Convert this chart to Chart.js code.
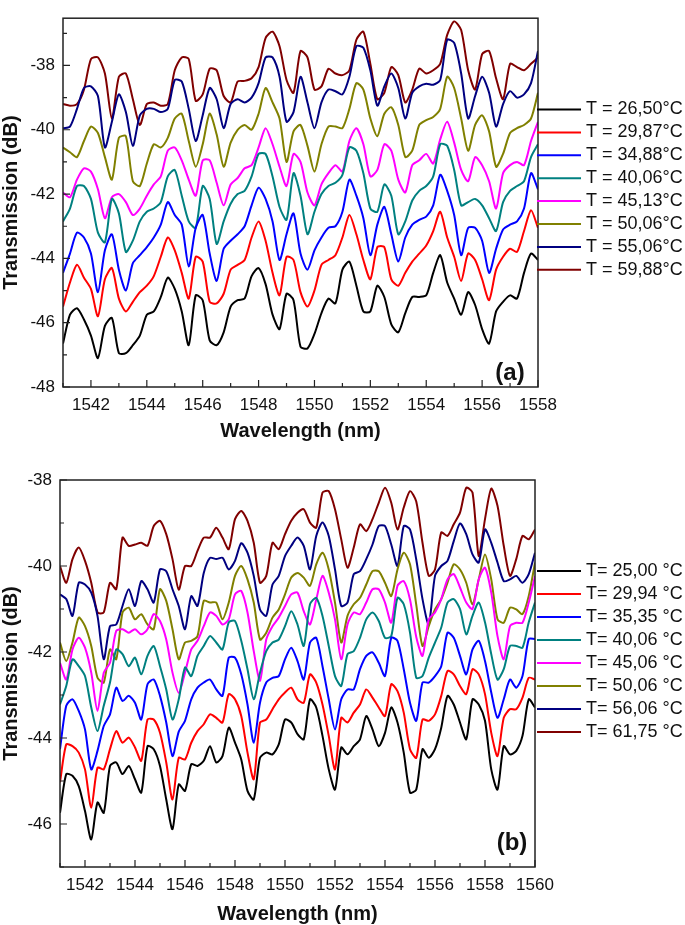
<!DOCTYPE html>
<html>
<head>
<meta charset="utf-8">
<script src="https://cdn.jsdelivr.net/npm/chart.js@4"></script>
<style>
    body { margin: 0; background: #fff; }
    canvas { position: absolute; left: 0; }
    #chartA { top: 0; }
    #chartB { top: 460px; }
</style>
</head>
<body>
<canvas id="chartA" width="685" height="460"></canvas>
<canvas id="chartB" width="685" height="465"></canvas>
<script>
const wavelengthA = [1541, 1541.25, 1541.5, 1541.75, 1542, 1542.25, 1542.5, 1542.75, 1543, 1543.25, 1543.5, 1543.75,
    1544, 1544.25, 1544.5, 1544.75, 1545, 1545.25, 1545.5, 1545.75, 1546, 1546.25, 1546.5, 1546.75,
    1547, 1547.25, 1547.5, 1547.75, 1548, 1548.25, 1548.5, 1548.75, 1549, 1549.25, 1549.5, 1549.75,
    1550, 1550.25, 1550.5, 1550.75, 1551, 1551.25, 1551.5, 1551.75, 1552, 1552.25, 1552.5, 1552.75,
    1553, 1553.25, 1553.5, 1553.75, 1554, 1554.25, 1554.5, 1554.75, 1555, 1555.25, 1555.5, 1555.75,
    1556, 1556.25, 1556.5, 1556.75, 1557, 1557.25, 1557.5, 1557.75, 1558];

const wavelengthB = [1541, 1541.25, 1541.5, 1541.75, 1542, 1542.25, 1542.5, 1542.75, 1543, 1543.25, 1543.5, 1543.75,
    1544, 1544.25, 1544.5, 1544.75, 1545, 1545.25, 1545.5, 1545.75, 1546, 1546.25, 1546.5, 1546.75,
    1547, 1547.25, 1547.5, 1547.75, 1548, 1548.25, 1548.5, 1548.75, 1549, 1549.25, 1549.5, 1549.75,
    1550, 1550.25, 1550.5, 1550.75, 1551, 1551.25, 1551.5, 1551.75, 1552, 1552.25, 1552.5, 1552.75,
    1553, 1553.25, 1553.5, 1553.75, 1554, 1554.25, 1554.5, 1554.75, 1555, 1555.25, 1555.5, 1555.75,
    1556, 1556.25, 1556.5, 1556.75, 1557, 1557.25, 1557.5, 1557.75, 1558, 1558.25, 1558.5, 1558.75,
    1559, 1559.25, 1559.5, 1559.75, 1560];

const colors = ['#000000', '#ff0000', '#0000ff', '#008080', '#ff00ff', '#808000', '#000080', '#800000'];

const labelsA = ['T = 26,50°C', 'T = 29,87°C', 'T = 34,88°C', 'T = 40,06°C',
    'T = 45,13°C', 'T = 50,06°C', 'T = 55,06°C', 'T = 59,88°C'];
const labelsB = ['T= 25,00 °C', 'T= 29,94 °C', 'T= 35,35 °C', 'T= 40,06 °C',
    'T= 45,06 °C', 'T= 50,06 °C', 'T= 56,06 °C', 'T= 61,75 °C'];

// panel (a), transmission in dB
const a2650 = [-46.65, -45.75, -45.55, -45.9, -46.4, -47.1, -46.1, -45.85, -46.95, -46.95, -46.7, -46.4, -45.75, -45.65, -45.2, -44.6, -44.95,
    -45.65, -46.7, -45.15, -45.3, -46.55, -46.7, -46.3, -45.5, -45.3, -45.25, -44.55, -44.3, -44.8, -45.75, -46.2, -45.1, -45.3,
    -46.75, -46.8, -46.35, -45.7, -45.25, -45.4, -44.35, -44.1, -44.85, -45.65, -45.65, -44.85, -45.2, -46.05, -46.3, -45.7, -45.2,
    -45.2, -45.15, -44.45, -43.9, -44.75, -45.25, -45.75, -45.05, -45.45, -46.2, -46.65, -45.65, -45.35, -45.15, -45.25, -44.45, -43.85, -44.05];
const a2987 = [-45.5, -44.75, -44.2, -44.6, -44.95, -45.8, -44.65, -44.3, -45.25, -45.65, -45.35, -45.05, -44.85, -44.55, -43.95, -43.35, -43.75,
    -44.45, -45.25, -43.95, -44.1, -45.35, -45.4, -45.1, -44.35, -44.2, -44.05, -43.35, -42.85, -43.45, -44.45, -45.15, -43.95, -44.05,
    -45.05, -45.5, -45.0, -44.2, -44.05, -43.9, -43.35, -42.65, -43.25, -44.05, -44.65, -43.65, -43.65, -44.65, -44.85, -44.45, -44.1,
    -43.85, -43.6, -43.15, -42.55, -43.35, -43.95, -44.7, -43.85, -44.05, -44.65, -45.3, -44.35, -43.95, -43.7, -43.8, -43.15, -42.5, -43.05];
const a3488 = [-44.45, -43.85, -43.2, -43.35, -43.85, -45.05, -43.75, -43.25, -44.35, -45.0, -44.15, -43.9, -43.65, -43.35, -42.95, -42.25, -42.65,
    -42.95, -44.25, -43.05, -42.65, -43.85, -44.7, -43.7, -43.45, -43.25, -43.0, -42.35, -41.8, -42.15, -42.85, -44.05, -43.25, -42.6,
    -43.85, -44.35, -43.75, -43.35, -43.05, -43.0, -42.55, -41.55, -42.05, -42.75, -43.9, -42.95, -42.4, -43.25, -44.1, -43.35, -42.95,
    -42.8, -42.7, -42.35, -41.4, -41.9, -42.65, -43.9, -43.05, -43.05, -43.45, -44.45, -43.7, -43.1, -42.95, -42.85, -42.45, -41.35, -41.85];
const a4006 = [-42.85, -42.45, -41.75, -41.75, -42.15, -43.2, -43.5, -42.15, -42.6, -43.8, -43.45, -42.85, -42.55, -42.45, -42.25, -41.45, -41.25,
    -42.05, -42.85, -43.05, -41.75, -42.15, -43.55, -42.85, -42.3, -42.0, -41.9, -41.45, -40.75, -40.75, -41.45, -42.4, -42.8, -41.35,
    -42.05, -43.25, -42.55, -42.0, -41.75, -41.65, -41.4, -40.55, -40.65, -41.35, -42.45, -42.55, -41.7, -42.05, -43.25, -42.85, -42.2,
    -41.9, -41.75, -41.45, -40.45, -40.5, -41.25, -42.35, -42.25, -42.15, -42.35, -42.75, -43.15, -42.25, -41.9, -41.75, -41.6, -40.85, -40.45];
const a4513 = [-41.95, -42.1, -41.55, -41.2, -41.3, -41.85, -42.75, -42.1, -42.0, -42.25, -42.65, -42.45, -42.05, -41.7, -41.45, -40.65, -40.55,
    -40.95, -41.55, -42.05, -40.95, -40.95, -41.65, -42.35, -41.7, -41.5, -41.2, -41.1, -40.55, -39.95, -40.45, -41.15, -41.75, -40.75,
    -41.0, -41.95, -42.35, -41.7, -41.35, -41.1, -41.3, -40.35, -39.95, -40.45, -41.45, -41.25, -40.45, -40.65, -41.55, -41.95, -41.1,
    -40.95, -40.75, -41.05, -40.3, -39.75, -40.4, -41.25, -41.6, -40.85, -41.1, -41.6, -42.45, -41.35, -41.1, -41.0, -41.1, -40.35, -39.75];
const a5006 = [-40.55, -40.7, -40.85, -40.35, -39.9, -40.1, -40.85, -41.55, -40.25, -40.2, -41.6, -41.75, -41.05, -40.45, -40.55, -40.25, -39.65,
    -39.5, -40.35, -41.15, -40.45, -39.5, -40.15, -41.15, -40.4, -40.0, -39.85, -40.0, -39.5, -38.7, -39.15, -39.65, -41.0, -40.05,
    -39.85, -40.5, -41.3, -40.45, -39.9, -39.9, -39.95, -39.35, -38.55, -38.75, -39.65, -40.2, -39.5, -39.3, -39.85, -40.85, -40.65,
    -39.85, -39.7, -39.6, -39.35, -38.35, -38.7, -39.65, -40.65, -39.85, -39.55, -40.05, -41.15, -40.75, -40.1, -39.95, -39.85, -39.65, -38.85];
const a5506 = [-39.95, -39.9, -39.35, -38.7, -38.65, -38.95, -40.55, -39.75, -38.9, -39.45, -40.5, -39.55, -39.35, -39.35, -39.45, -39.35, -38.45,
    -38.5, -39.35, -40.35, -39.55, -38.7, -39.05, -39.95, -39.2, -39.05, -39.15, -39.0, -38.55, -37.75, -37.75, -38.35, -39.75, -39.45,
    -38.35, -39.15, -39.95, -39.15, -38.75, -38.8, -38.9, -38.35, -37.4, -37.45, -38.15, -39.25, -38.65, -38.25, -38.7, -39.65, -38.85,
    -38.65, -38.57, -38.6, -38.45, -37.2, -37.3, -38.25, -39.65, -38.95, -38.35, -38.85, -39.9, -39.2, -38.8, -39.0, -38.9, -38.55, -37.55];
const a5988 = [-39.2, -39.25, -39.2, -38.75, -37.8, -37.75, -38.25, -39.65, -38.35, -38.25, -39.05, -39.85, -39.2, -39.15, -39.25, -39.2, -38.15,
    -37.75, -37.8, -39.1, -38.9, -38.1, -38.15, -38.95, -39.15, -38.5, -38.48, -38.4, -38.05, -37.15, -36.95, -37.4, -38.45, -38.85,
    -37.55, -37.75, -38.75, -38.65, -38.1, -38.25, -38.3, -38.15, -37.2, -36.95, -37.95, -39.05, -38.85, -38.05, -38.3, -39.15, -38.75,
    -38.1, -38.25, -38.15, -37.95, -37.05, -36.63, -36.9, -38.15, -38.75, -37.65, -37.55, -38.4, -39.05, -37.95, -38.05, -38.15, -37.95, -37.75];

// panel (b), transmission in dB
const b2500 = [-45.74, -44.84, -44.88, -45.12, -45.7, -46.36, -45.5, -45.74, -44.65, -44.57, -44.84, -44.65, -44.96, -45.27, -44.19, -44.26, -44.65, -45.43, -46.12, -45.08,
    -45.23, -44.61, -44.65, -44.53, -44.19, -44.57, -44.42, -43.76, -44.11, -44.5, -45.23, -45.43, -44.46, -44.34, -44.38, -44.15, -43.57, -43.64, -43.91,
    -44.03, -43.1, -43.29, -43.95, -44.73, -45.2, -44.22, -44.38, -44.19, -44.03, -43.49, -43.8, -44.19, -43.88, -43.29, -43.64, -44.34, -45.27, -45.2,
    -44.26, -44.46, -44.26, -43.76, -43.02, -43.22, -43.64, -44.03, -43.1, -43.22, -43.6, -44.73, -45.2, -44.19, -44.38, -44.3, -43.95, -43.1, -43.29];
const b2994 = [-45.03, -44.15, -44.19, -44.34, -44.73, -45.62, -44.69, -44.73, -44.26, -43.84, -44.11, -43.99, -44.22, -44.53, -43.57, -43.57, -43.88, -44.57, -45.43, -44.46,
    -44.5, -44.11, -43.84, -43.68, -43.45, -43.53, -43.64, -42.98, -43.1, -43.49, -44.34, -44.96, -43.64, -43.57, -43.33, -43.1, -42.94, -42.83, -43.1,
    -43.18, -42.52, -42.71, -43.22, -43.95, -44.73, -43.53, -43.64, -43.41, -43.22, -42.87, -43.06, -43.29, -43.49, -42.75, -42.91, -43.41, -44.26, -44.46,
    -43.57, -43.6, -43.45, -43.02, -42.44, -42.52, -42.79, -42.98, -42.4, -42.52, -42.98, -43.88, -44.42, -43.53, -43.33, -43.33, -43.06, -42.6, -42.64];
const b3535 = [-44.26, -43.25, -43.1, -43.37, -43.8, -44.73, -44.3, -43.72, -43.45, -42.83, -43.14, -43.02, -43.18, -43.57, -42.75, -42.64, -43.02, -43.64, -44.42, -43.85,
    -43.6, -43.1, -42.83, -42.71, -42.64, -42.87, -43.02, -42.13, -42.13, -42.52, -43.22, -44.11, -43.18, -42.71, -42.6, -42.56, -42.17, -41.9, -42.21,
    -42.64, -41.78, -41.67, -42.33, -43.1, -43.8, -43.1, -42.87, -42.87, -42.4, -42.09, -42.01, -42.25, -42.56, -41.67, -41.74, -42.4, -43.18, -43.6,
    -42.71, -42.71, -42.56, -42.33, -41.55, -41.67, -42.09, -42.52, -41.94, -41.74, -42.21, -42.94, -43.53, -43.1, -42.64, -42.83, -42.56, -41.7, -41.7];
const b4006 = [-43.22, -42.79, -42.17, -42.33, -42.56, -43.29, -43.84, -43.25, -42.71, -41.94, -42.05, -42.33, -42.13, -42.52, -42.09, -41.86, -42.33, -42.87, -43.57, -43.1,
    -42.36, -42.56, -42.09, -41.86, -41.63, -41.78, -41.94, -41.31, -41.28, -41.74, -42.4, -43.1, -42.48, -41.98, -41.78, -41.71, -41.4, -41.05, -41.36,
    -41.86, -40.89, -40.74, -41.16, -41.86, -42.56, -42.79, -42.05, -41.98, -41.67, -41.24, -41.08, -41.28, -41.67, -41.63, -40.74, -40.89, -41.55, -42.6,
    -42.56, -42.13, -41.78, -41.43, -40.85, -40.77, -41.0, -41.59, -41.16, -40.85, -41.31, -42.05, -42.64, -42.4, -41.86, -41.86, -41.9, -41.31, -40.85];
const b4506 = [-42.25, -42.64, -41.94, -41.67, -41.9, -42.48, -43.37, -42.48, -42.25, -41.51, -41.47, -41.55, -41.47, -41.59, -41.47, -41.12, -41.28, -41.71, -42.48, -42.95,
    -42.48, -41.94, -41.74, -41.4, -41.08, -41.16, -41.36, -41.24, -40.66, -40.58, -41.08, -41.98, -42.67, -41.71, -41.4, -41.2, -40.93, -40.66, -40.62,
    -41.05, -41.36, -40.78, -40.23, -40.62, -41.24, -42.17, -41.36, -41.08, -41.12, -40.85, -40.54, -40.54, -40.85, -41.32, -40.46, -40.35, -40.78, -41.65,
    -42.09, -41.24, -41.08, -40.77, -40.31, -40.19, -40.5, -40.85, -41.0, -40.31, -40.04, -40.62, -41.63, -42.17, -41.4, -41.32, -41.32, -40.85, -40.23];
const b5006 = [-41.78, -42.21, -41.78, -41.2, -41.4, -41.86, -42.6, -42.71, -41.94, -42.17, -41.08, -40.97, -41.24, -41.12, -41.36, -41.47, -40.54, -40.81, -41.47, -42.17,
    -41.78, -41.74, -41.63, -40.81, -40.85, -40.85, -41.24, -40.85, -40.23, -40.0, -40.31, -40.85, -41.71, -41.55, -41.2, -41.01, -40.66, -40.27, -40.16,
    -40.27, -40.46, -39.96, -39.69, -40.08, -40.85, -41.78, -41.16, -40.89, -40.74, -40.43, -40.12, -40.12, -40.39, -40.7, -40.08, -39.69, -39.96, -40.9,
    -41.86, -41.4, -41.01, -40.77, -40.39, -39.96, -40.08, -40.39, -40.89, -40.31, -39.73, -40.31, -41.24, -41.32, -40.97, -41.01, -41.12, -40.7, -39.92];
const b5606 = [-40.66, -40.77, -41.16, -40.39, -40.43, -40.62, -41.16, -42.17, -41.4, -41.36, -40.93, -40.54, -40.93, -40.35, -40.54, -40.85, -40.08, -40.12, -40.54, -40.93,
    -41.47, -40.7, -40.93, -40.16, -39.81, -39.84, -39.81, -40.08, -39.88, -39.47, -39.69, -40.23, -41.01, -41.16, -40.43, -40.23, -39.77, -39.53, -39.34,
    -39.53, -40.08, -39.3, -38.99, -39.3, -40.08, -40.93, -40.85, -40.19, -40.12, -39.84, -39.5, -39.07, -39.07, -39.5, -40.0, -39.07, -39.15, -39.85,
    -40.77, -41.36, -40.23, -40.0, -39.88, -39.42, -39.01, -39.26, -39.73, -39.92, -39.15, -39.46, -39.92, -40.35, -40.31, -40.23, -40.39, -40.19, -39.69];
const b6175 = [-40.0, -40.39, -39.84, -39.57, -39.88, -40.39, -41.08, -41.08, -40.39, -40.54, -39.34, -39.53, -39.5, -39.46, -39.53, -39.07, -38.95, -39.26, -39.84, -40.55,
    -40.0, -40.0, -39.65, -39.34, -39.34, -39.11, -39.34, -39.61, -38.91, -38.72, -38.95, -39.46, -40.39, -40.23, -39.46, -39.61, -39.26, -38.95, -38.76,
    -38.68, -38.99, -39.11, -38.29, -38.26, -38.68, -39.38, -40.04, -39.57, -39.03, -39.19, -38.91, -38.53, -38.18, -38.53, -39.15, -38.64, -38.26, -38.5,
    -39.46, -40.23, -40.08, -39.22, -39.3, -39.03, -38.76, -38.18, -38.29, -39.77, -38.91, -38.2, -38.6, -39.53, -40.23, -39.84, -39.3, -39.38, -39.15];

const seriesA = [a2650, a2987, a3488, a4006, a4513, a5006, a5506, a5988];
const seriesB = [b2500, b2994, b3535, b4006, b4506, b5006, b5606, b6175];

const FONT = '"Liberation Sans", Arial, Helvetica, sans-serif';

function makeDatasets(wavelength, series, labels) {
    return series.map((values, i) => ({
        label: labels[i],
        data: values.map((v, j) => ({x: wavelength[j], y: v})),
        borderColor: colors[i],
        borderWidth: 2,
        pointRadius: 0,
        tension: 0.25,
        fill: false
    }));
}

// frame, inward ticks, legend at the right and the panel letter
const decorations = {
    id: 'decorations',
    afterDatasetsDraw(chart, args, opts) {
        const ctx = chart.ctx;
        const area = chart.chartArea;
        const xs = chart.scales.x;
        const ys = chart.scales.y;
        ctx.save();
        ctx.strokeStyle = '#222';
        ctx.lineWidth = 1.5;
        ctx.strokeRect(area.left, area.top, area.right - area.left, area.bottom - area.top);

        ctx.lineWidth = 1.2;
        ctx.beginPath();
        for (const tick of xs.ticks) {
            const px = xs.getPixelForValue(tick.value);
            const len = tick.value % 2 === 0 ? 7 : 4;
            ctx.moveTo(px, area.bottom);
            ctx.lineTo(px, area.bottom - len);
        }
        for (const tick of ys.ticks) {
            const py = ys.getPixelForValue(tick.value);
            const len = tick.value % 2 === 0 ? 7 : 4;
            ctx.moveTo(area.left, py);
            ctx.lineTo(area.left + len, py);
        }
        ctx.stroke();

        ctx.font = '18px ' + FONT;
        ctx.textAlign = 'left';
        ctx.textBaseline = 'middle';
        chart.data.datasets.forEach((ds, i) => {
            const ly = opts.legendTop + i * opts.legendStep;
            const lx = area.right + opts.lineStart;
            ctx.strokeStyle = ds.borderColor;
            ctx.lineWidth = 2;
            ctx.beginPath();
            ctx.moveTo(lx, ly);
            ctx.lineTo(lx + 44, ly);
            ctx.stroke();
            ctx.fillStyle = '#111';
            ctx.fillText(ds.label, lx + 49, ly);
        });

        ctx.font = 'bold 24px ' + FONT;
        ctx.textAlign = 'center';
        ctx.fillStyle = '#111';
        ctx.fillText(opts.panel, opts.panelX, opts.panelY);
        ctx.restore();
    }
};

function drawPanel(id, wavelength, series, labels, cfg) {
    new Chart(document.getElementById(id), {
        type: 'line',
        data: {datasets: makeDatasets(wavelength, series, labels)},
        options: {
            responsive: false,
            animation: false,
            devicePixelRatio: 1,
            layout: {padding: cfg.padding},
            plugins: {
                legend: {display: false},
                tooltip: {enabled: false},
                decorations: cfg.deco
            },
            scales: {
                x: {
                    type: 'linear',
                    min: 1541,
                    max: cfg.xMax,
                    grid: {display: false, drawTicks: false},
                    border: {display: false},
                    ticks: {
                        stepSize: 1,
                        autoSkip: false,
                        maxRotation: 0,
                        padding: 8,
                        color: '#111',
                        font: {size: 17, family: FONT},
                        callback: v => v % 2 === 0 ? String(v) : ''
                    },
                    title: {
                        display: true,
                        text: 'Wavelength (nm)',
                        color: '#111',
                        font: {size: 20, weight: 'bold', family: FONT, lineHeight: 1},
                        padding: {top: 0, bottom: cfg.xTitlePad}
                    },
                    afterFit: scale => { scale.height = cfg.xHeight; }
                },
                y: {
                    min: cfg.yMin,
                    max: cfg.yMax,
                    grid: {display: false, drawTicks: false},
                    border: {display: false},
                    ticks: {
                        stepSize: 1,
                        includeBounds: false,
                        autoSkip: false,
                        padding: 8,
                        color: '#111',
                        font: {size: 17, family: FONT},
                        callback: v => v % 2 === 0 ? String(v) : ''
                    },
                    title: {
                        display: true,
                        text: 'Transmission (dB)',
                        color: '#111',
                        font: {size: 20, weight: 'bold', family: FONT, lineHeight: 1},
                        padding: {top: 1, bottom: 0}
                    },
                    afterFit: scale => { scale.width = cfg.yWidth; }
                }
            }
        },
        plugins: [decorations]
    });
}

drawPanel('chartA', wavelengthA, seriesA, labelsA, {
    xMax: 1558, yMin: -48, yMax: -36.53,
    padding: {top: 2, right: 147, left: 0, bottom: 0},
    xHeight: 73, yWidth: 63, xTitlePad: 19,
    deco: {legendTop: 109.5, legendStep: 22.9, lineStart: -1, panel: '(a)', panelX: 510, panelY: 373}
});

drawPanel('chartB', wavelengthB, seriesB, labelsB, {
    xMax: 1560, yMin: -47, yMax: -38,
    padding: {top: 20, right: 150, left: 0, bottom: 0},
    xHeight: 58, yWidth: 60, xTitlePad: 1,
    deco: {legendTop: 111, legendStep: 23, lineStart: 2, panel: '(b)', panelX: 512, panelY: 383}
});
</script>
</body>
</html>
